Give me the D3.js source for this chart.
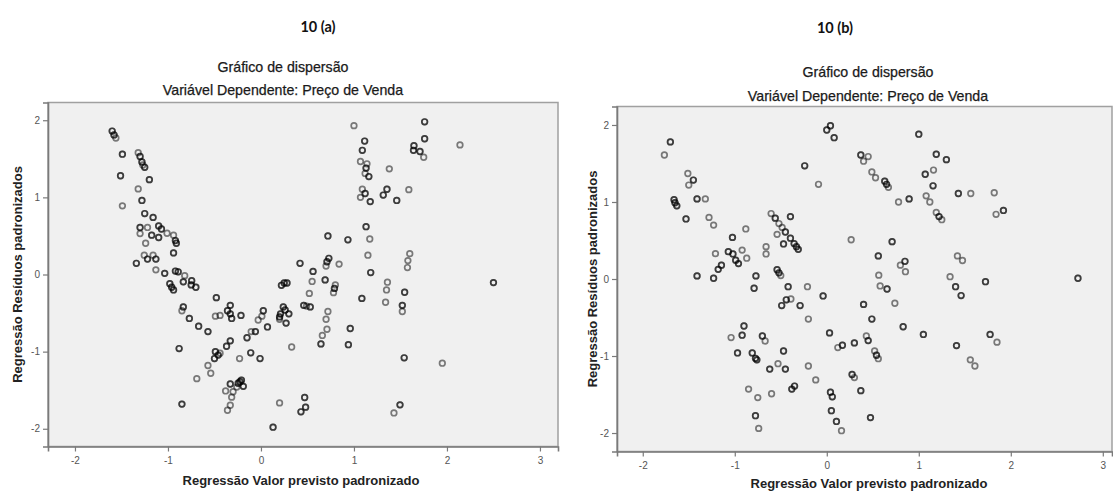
<!DOCTYPE html>
<html>
<head>
<meta charset="utf-8">
<script src="https://cdn.jsdelivr.net/npm/d3@7"></script>
<style>
  html, body { margin: 0; padding: 0; background: #fff; }
  svg { display: block; }
</style>
</head>
<body>
<svg id="chart" width="1113" height="492"></svg>
<script>
// ---- Panel (a): standardized predicted value vs standardized residual ----
// cases = number of observations sharing the same spot (1 or 2)
const predA = [
  -1.60,-1.58,-1.56,-1.49,-1.51,-1.49,-1.32,-1.30,-1.28,-1.27,-1.25,-1.20,-1.32,-1.28,-1.25,-1.16,
  -1.30,-1.22,-1.30,-1.10,-1.07,-1.175,-1.10,-1.01,-0.94,-0.92,-0.91,-1.24,-1.255,-1.22,-1.16,-1.13,
  -1.34,-0.94,-1.13,-1.035,-0.92,-0.89,-0.82,-0.745,-0.835,-0.98,-0.96,-0.94,-0.75,-0.70,-0.48,-0.835,
  -0.85,-0.77,-0.67,-0.57,-0.88,-0.85,-0.69,-0.57,-0.54,-0.49,-0.44,-0.33,-0.36,-0.33,-0.315,-0.215,
  -0.49,-0.46,-0.50,-0.44,-0.37,-0.33,-0.23,-0.33,-0.38,-0.315,-0.33,-0.36,-0.30,-0.26,-0.245,-0.21,
  -0.19,-0.226,-0.15,-0.11,-0.105,-0.06,-0.01,-0.03,0.01,0.025,0.07,0.20,0.21,0.24,0.26,0.30,
  0.27,0.20,0.22,0.25,0.28,0.33,0.42,0.43,0.20,0.13,
  1.00,1.76,1.76,2.14,1.115,1.09,1.645,1.64,1.71,1.75,1.07,1.14,1.13,1.12,1.16,1.38,
  1.09,1.12,1.07,1.175,1.315,1.355,1.46,1.59,1.13,0.72,0.935,1.17,1.15,1.60,0.73,1.58,
  1.575,0.71,0.70,0.84,0.56,0.55,0.69,1.18,0.80,0.79,0.78,0.52,1.36,1.35,1.545,1.34,
  1.085,1.52,1.52,0.46,0.49,0.53,0.72,0.70,0.71,0.66,0.645,0.96,0.94,1.54,1.95,0.47,
  0.48,1.495,1.43,2.50
];
const residA = [
  1.86,1.81,1.77,1.56,1.28,0.89,1.58,1.53,1.46,1.42,1.39,1.23,1.11,0.96,0.79,0.74,
  0.61,0.61,0.53,0.63,0.59,0.51,0.48,0.535,0.51,0.44,0.405,0.405,0.25,0.20,0.25,0.20,
  0.145,0.28,0.06,0.015,0.045,0.035,-0.015,-0.08,-0.095,-0.12,-0.165,-0.20,-0.135,-0.165,-0.30,-0.42,
  -0.47,-0.57,-0.67,-0.74,-0.96,-1.68,-1.35,-1.18,-1.28,-0.54,-0.53,-0.40,-0.47,-0.51,-0.57,-0.53,
  -1.00,-1.045,-1.09,-1.02,-0.93,-0.86,-1.09,-1.42,-1.51,-1.59,-1.695,-1.76,-1.52,-1.46,-1.41,-1.37,
  -1.45,-1.39,-0.82,-1.015,-0.74,-0.74,-1.09,-0.59,-0.54,-0.47,-0.68,-0.55,-0.51,-0.42,-0.46,-0.51,
  -0.63,-0.58,-0.14,-0.11,-0.11,-0.94,0.145,-1.78,-1.665,-1.98,
  1.93,1.98,1.76,1.68,1.73,1.61,1.67,1.61,1.595,1.52,1.465,1.435,1.38,1.31,1.27,1.37,
  1.105,1.05,1.00,0.945,1.03,1.105,0.96,1.10,0.62,0.50,0.45,0.46,0.25,0.27,0.21,0.18,
  0.09,0.165,0.11,0.135,0.04,-0.09,-0.07,0.025,-0.135,-0.18,-0.235,-0.245,-0.10,-0.20,-0.23,-0.36,
  -0.31,-0.40,-0.48,-0.40,-0.41,-0.42,-0.48,-0.58,-0.71,-0.79,-0.90,-0.70,-0.91,-1.08,-1.15,-1.595,
  -1.72,-1.69,-1.795,-0.105
];
const casesA = [
  2,2,1,2,2,1,1,2,2,1,2,2,1,2,2,2,
  2,1,1,2,2,2,2,1,1,2,2,1,1,2,1,2,
  2,2,1,2,2,2,1,2,2,2,2,2,2,2,2,2,
  1,2,2,2,2,2,1,1,1,1,1,2,2,2,2,2,
  2,2,2,1,2,2,1,2,1,1,1,1,1,1,2,2,
  2,2,2,2,1,2,2,1,1,2,2,2,2,2,2,2,
  2,1,2,2,2,1,2,2,1,2,
  1,2,2,1,2,2,2,2,2,1,1,1,2,1,2,1,
  1,2,1,2,2,2,2,1,2,2,2,1,1,1,2,1,
  1,2,1,1,2,1,2,2,1,2,1,1,1,1,2,1,
  2,2,1,2,1,2,1,1,1,1,2,2,2,2,1,2,
  2,2,1,2
];

// ---- Panel (b) ----
const predB = [
  -1.70,-1.765,-1.51,-1.50,-1.45,-1.66,-1.65,-1.63,-1.41,-1.32,-1.53,-1.28,-1.23,-1.025,-0.88,-1.21,
  -1.07,-1.02,-0.99,-0.96,-0.92,-0.87,-1.145,-1.18,-0.66,-0.66,-0.605,-0.56,-0.52,-0.485,-0.45,-0.395,
  -0.54,-0.47,-0.395,-0.355,-0.33,-0.31,-0.24,-0.09,0.00,0.04,0.08,
  -1.41,-1.23,-0.77,-0.79,-0.54,-0.52,-0.50,-0.42,-0.21,-0.04,-0.44,-0.39,-0.49,-0.29,-0.20,-0.90,
  -0.92,-1.04,-0.70,-0.67,-0.97,-0.81,-0.775,-0.76,-0.47,-0.62,-0.53,-0.45,-0.20,-0.12,-0.85,-0.75,
  -0.60,-0.38,-0.35,-0.775,-0.74,0.03,0.12,0.17,0.04,0.06,0.05,0.105,0.16,
  1.00,0.37,0.45,0.40,0.49,0.53,0.63,0.65,0.67,1.19,1.30,1.16,1.07,1.155,0.78,0.895,
  1.08,1.12,1.43,1.565,1.82,1.19,1.22,1.25,1.84,1.92,0.265,0.71,0.56,0.80,0.85,1.42,
  1.475,0.855,0.565,0.58,0.655,1.34,1.40,1.46,1.725,2.73,0.40,0.74,0.49,0.83,1.05,0.30,
  0.43,0.45,0.52,0.54,0.56,1.41,1.775,1.85,1.56,1.61,0.275,0.30,0.37,0.475
];
const residB = [
  1.78,1.61,1.37,1.22,1.285,1.03,0.99,0.95,1.04,1.04,0.78,0.80,0.70,0.54,0.65,0.33,
  0.355,0.325,0.245,0.20,0.375,0.27,0.18,0.125,0.42,0.325,0.85,0.79,0.72,0.67,0.61,0.81,
  0.58,0.455,0.53,0.46,0.42,0.385,1.47,1.23,1.935,1.99,1.835,
  0.04,0.01,0.04,-0.12,0.12,0.08,0.045,-0.10,-0.10,-0.22,-0.27,-0.26,-0.345,-0.345,-0.52,-0.61,
  -0.73,-0.76,-0.74,-0.805,-0.96,-0.96,-1.03,-1.05,-0.935,-1.17,-1.10,-1.17,-1.13,-1.31,-1.43,-1.54,
  -1.49,-1.43,-1.39,-1.775,-1.94,-0.70,-0.89,-0.86,-1.47,-1.53,-1.71,-1.85,-1.97,
  1.88,1.61,1.59,1.53,1.39,1.315,1.27,1.23,1.19,1.62,1.55,1.415,1.36,1.21,1.00,1.04,
  1.08,1.00,1.11,1.11,1.12,0.865,0.81,0.77,0.84,0.89,0.51,0.485,0.30,0.18,0.23,0.30,
  0.24,0.095,0.05,-0.09,-0.13,0.03,-0.10,-0.215,-0.035,0.01,-0.33,-0.315,-0.52,-0.62,-0.72,-0.83,
  -0.74,-0.80,-0.935,-0.99,-1.035,-0.865,-0.72,-0.82,-1.05,-1.13,-1.24,-1.28,-1.45,-1.80
];
const casesB = [
  2,1,1,1,2,2,2,2,2,1,2,1,1,2,1,1,
  2,2,2,2,1,1,2,2,1,1,1,2,1,1,2,2,
  1,2,2,2,2,2,2,1,2,2,2,
  2,2,2,2,2,2,1,2,1,2,2,1,2,2,1,2,
  2,1,2,1,2,2,2,2,2,2,1,2,1,1,1,1,
  1,2,2,2,1,2,1,2,2,2,2,2,1,
  2,2,1,1,1,1,2,2,1,2,2,1,2,2,1,2,
  1,1,2,1,1,1,2,1,1,2,1,2,2,1,2,1,
  1,1,1,1,2,1,2,2,2,2,2,1,2,2,2,2,
  1,2,1,2,1,2,2,1,1,1,2,1,2,2
];

const xTicks = [-2, -1, 0, 1, 2, 3];
const yTicks = [-2, -1, 0, 1, 2];

const panels = [
  { label: "10 (a)", pred: predA, resid: residA, cases: casesA,
    box: { x0: 48, x1: 558, y0: 102.5, y1: 446.5 }, xDom: [-2.29, 3.194], yDom: [-2.23, 2.23],
    head: { cx: 318, y: 32 }, titleCx: 283, t1: 72, t2: 95, xTitleY: 485, xTitleCx: 301, yTitleX: 22 },
  { label: "10 (b)", pred: predB, resid: residB, cases: casesB,
    box: { x0: 617, x1: 1112, y0: 106.5, y1: 451.5 }, xDom: [-2.28, 3.1], yDom: [-2.24, 2.24],
    head: { cx: 835, y: 33 }, titleCx: 868, t1: 77, t2: 101, xTitleY: 487.5, xTitleCx: 869, yTitleX: 597 }
];

const svg = d3.select("#chart");
const sans = "'Liberation Sans', Arial, sans-serif";

panels.forEach(p => {
  const g = svg.append("g");
  const b = p.box;
  const x = d3.scaleLinear().domain(p.xDom).range([b.x0, b.x1]);
  const y = d3.scaleLinear().domain(p.yDom).range([b.y1, b.y0]);

  // headings
  g.append("text").attr("x", p.head.cx).attr("y", p.head.y)
    .attr("text-anchor", "middle").attr("font-family", "Lato, 'Open Sans', sans-serif")
    .attr("font-weight", 700).attr("font-size", 14.5).attr("fill", "#111").text(p.label);
  [["Gráfico de dispersão", p.t1], ["Variável Dependente: Preço de Venda", p.t2]].forEach(([t, ty]) => {
    g.append("text").attr("x", p.titleCx).attr("y", ty)
      .attr("text-anchor", "middle").attr("font-family", sans)
      .attr("font-size", 14.2).attr("fill", "#1a1a1a")
      .attr("stroke", "#1a1a1a").attr("stroke-width", 0.25).text(t);
  });

  // plot area
  g.append("rect").attr("x", b.x0).attr("y", b.y0)
    .attr("width", b.x1 - b.x0).attr("height", b.y1 - b.y0)
    .attr("fill", "#f0f0f0").attr("stroke", "#a0a0a0").attr("stroke-width", 1.5);

  // axes
  const xAxis = d3.axisBottom(x).tickValues(xTicks).tickSize(5).tickPadding(5)
    .tickFormat(d => String(d));
  const yAxis = d3.axisLeft(y).tickValues(yTicks).tickSize(5).tickPadding(3)
    .tickFormat(d => String(d));
  const gx = g.append("g").attr("transform", `translate(0,${b.y1})`).call(xAxis);
  const gy = g.append("g").attr("transform", `translate(${b.x0},0)`).call(yAxis);
  [gx, gy].forEach(a => {
    a.select(".domain").attr("stroke", "#7a7a7a").attr("stroke-width", 1.6);
    a.selectAll(".tick line").attr("stroke", "#7a7a7a").attr("stroke-width", 1.2);
    a.selectAll(".tick text").attr("font-family", sans)
      .attr("font-size", 10).attr("fill", "#555");
  });

  // axis titles
  g.append("text").attr("x", p.xTitleCx).attr("y", p.xTitleY)
    .attr("text-anchor", "middle").attr("font-family", sans)
    .attr("font-weight", 700).attr("font-size", 13).attr("fill", "#222")
    .text("Regressão Valor previsto padronizado");
  g.append("text")
    .attr("transform", `translate(${p.yTitleX},${(b.y0 + b.y1) / 2}) rotate(-90)`)
    .attr("text-anchor", "middle").attr("font-family", sans)
    .attr("font-weight", 700).attr("font-size", 13).attr("fill", "#222")
    .text("Regressão Resíduos padronizados");

  // markers: each observation is one translucent ring, so coinciding cases look darker
  const obs = p.pred.flatMap((v, i) => d3.range(p.cases[i]).map(() => ({ px: v, py: p.resid[i] })));
  g.append("g").selectAll("circle").data(obs).join("circle")
    .attr("cx", d => x(d.px)).attr("cy", d => y(d.py)).attr("r", 2.8)
    .attr("fill", "none").attr("stroke", "#000").attr("stroke-opacity", 0.5)
    .attr("stroke-width", 1.7);
});
</script>
</body>
</html>
